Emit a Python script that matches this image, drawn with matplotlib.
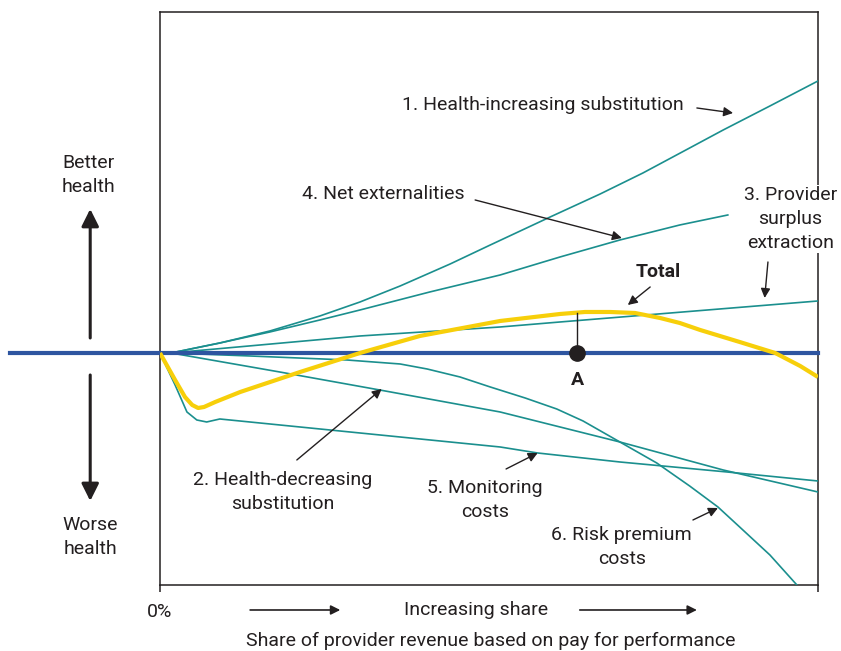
import numpy as np
import matplotlib.pyplot as plt

plt.rcParams['font.family'] = ['Roboto', 'DejaVu Sans']

# x: share of revenue on pay for performance (0-100), y: health effect (arbitrary units)
inc_x = [1.7, 9.1, 16.7, 24.3, 30.4, 36.5, 44.1, 50.2, 59.3, 66.9, 73.4, 80.5, 85.6, 92.7, 100]
inc_y = [0, 1.0, 2.2, 3.7, 5.1, 6.7, 8.9, 10.8, 13.6, 15.9, 18.0, 20.5, 22.3, 24.7, 27.2]

ext_x = [1.7, 9.1, 16.7, 24.3, 30.4, 41.0, 51.7, 60.8, 69.9, 79.0, 86.3]
ext_y = [0, 1.0, 2.1, 3.3, 4.3, 6.1, 7.8, 9.6, 11.3, 12.8, 13.8]

surplus_x = [1.7, 30.4, 51.7, 60.8, 100]
surplus_y = [0, 1.7, 2.6, 3.1, 5.2]

dec_x = [1.7, 18.2, 33.4, 51.7, 69.9, 85.6, 100]
dec_y = [0, -1.9, -3.7, -5.9, -8.9, -11.7, -13.9]

mon_x = [0, 2.3, 4.1, 5.6, 7.1, 9.1, 51.7, 57.4, 69.9, 86.2, 100]
mon_y = [0, -3.2, -5.9, -6.7, -6.9, -6.6, -9.4, -10.0, -10.9, -11.9, -12.8]

risk_x = [1.7, 13.7, 28.4, 36.5, 40.6, 45.6, 50.2, 55.5, 60.3, 64.3, 69.9, 75.5,
          80.5, 84.8, 88.1, 92.7, 96.8]
risk_y = [0, -0.3, -0.7, -1.1, -1.6, -2.4, -3.4, -4.5, -5.6, -6.8, -8.9, -11.0,
          -13.3, -15.4, -17.4, -20.2, -23.2]

total_x = [0, 2.3, 3.8, 4.9, 5.8, 6.7, 8.4, 12.2, 21.3, 30.4, 39.5, 51.7, 60.8, 64.6,
           68.4, 72.2, 76.0, 79.0, 82.1, 88.1, 93.5, 97.3, 100]
total_y = [0, -2.7, -4.4, -5.2, -5.5, -5.4, -4.9, -3.9, -1.9, 0, 1.7, 3.2, 3.9, 4.1,
           4.1, 4.0, 3.5, 3.0, 2.3, 1.1, 0, -1.3, -2.4]

point_a = 63.4

teal = '#1b8f8e'
ink = '#231f20'

fig = plt.figure(figsize=(8.41, 6.51), dpi=100)
ax = fig.add_axes([0.1902, 0.1014, 0.7824, 0.8802])
ax.set_xlim(0, 100)
ax.set_ylim(-23.2, 34.1)

for s in ax.spines.values():
    s.set_color(ink)
    s.set_linewidth(1.1)
ax.set_xticks([0, 100])
ax.set_xticklabels([])
ax.set_yticks([])
ax.tick_params(axis='x', length=5, width=1.1, color=ink)

for xs, ys in [(inc_x, inc_y), (ext_x, ext_y), (surplus_x, surplus_y),
               (dec_x, dec_y), (mon_x, mon_y), (risk_x, risk_y)]:
    ax.plot(xs, ys, color=teal, lw=1.2, zorder=3, solid_joinstyle='round')

ax.plot([-22.8, 100], [0, 0], color='#2e55a0', lw=3, clip_on=False, zorder=4)
ax.plot(total_x, total_y, color='#f7cf0a', lw=3, zorder=5,
        solid_capstyle='butt', solid_joinstyle='round')

a_top = np.interp(point_a, total_x, total_y)
ax.plot([point_a, point_a], [0, a_top], color=ink, lw=1, zorder=6)
ax.plot(point_a, 0, 'o', color=ink, ms=11, zorder=7)
ax.text(point_a, -2.7, 'A', ha='center', va='center', fontsize=14, fontweight='bold', color=ink)

fs = 14
arr = dict(arrowstyle='-|>', color=ink, lw=1, mutation_scale=14, shrinkA=0, shrinkB=0)

def note(text, xy, xytext, tx, ty, **kw):
    ax.text(tx, ty, text, ha='center', va='center', fontsize=fs, color=ink,
            linespacing=1.4, **kw)
    ax.annotate('', xy=xy, xytext=xytext, arrowprops=arr, annotation_clip=False)

note('1. Health-increasing substitution', (87.1, 24.0), (81.6, 24.5), 58.2, 24.8)
note('4. Net externalities', (70.2, 11.5), (47.9, 15.3), 33.9, 15.9)
note('3. Provider\nsurplus\nextraction', (91.9, 5.5), (92.4, 9.1), 95.8, 13.4,
     bbox=dict(facecolor='white', edgecolor='none', pad=1))
note('2. Health-decreasing\nsubstitution', (33.7, -3.6), (20.8, -10.7), 18.7, -13.9)
note('5. Monitoring\ncosts', (57.4, -10.0), (52.6, -11.6), 49.4, -14.7)
note('6. Risk premium\ncosts', (84.8, -15.5), (81.0, -16.7), 70.2, -19.4)

ax.text(75.7, 8.1, 'Total', ha='center', va='center', fontsize=14, fontweight='bold', color=ink)
ax.annotate('', xy=(71.1, 4.8), xytext=(74.5, 6.6), arrowprops=arr, annotation_clip=False)

# left side: better / worse health
ax.text(-10.9, 17.8, 'Better\nhealth', ha='center', va='center', fontsize=fs, color=ink, linespacing=1.4)
ax.text(-10.6, -18.4, 'Worse\nhealth', ha='center', va='center', fontsize=fs, color=ink, linespacing=1.4)
big = dict(arrowstyle='-|>', color=ink, lw=2.2, mutation_scale=26, shrinkA=0, shrinkB=0)
ax.annotate('', xy=(-10.6, 14.4), xytext=(-10.6, 1.5), arrowprops=big, annotation_clip=False)
ax.annotate('', xy=(-10.6, -14.8), xytext=(-10.6, -2.2), arrowprops=big, annotation_clip=False)

# bottom labels
ax.text(0, -25.9, '0%', ha='center', va='center', fontsize=fs, color=ink)
ax.text(48.0, -25.7, 'Increasing share', ha='center', va='center', fontsize=fs, color=ink)
ax.text(50.3, -28.8, 'Share of provider revenue based on pay for performance',
        ha='center', va='center', fontsize=fs, color=ink)
small = dict(arrowstyle='-|>', color=ink, lw=1.2, mutation_scale=14, shrinkA=0, shrinkB=0)
ax.annotate('', xy=(27.4, -25.7), xytext=(13.7, -25.7), arrowprops=small, annotation_clip=False)
ax.annotate('', xy=(81.6, -25.7), xytext=(63.8, -25.7), arrowprops=small, annotation_clip=False)

fig.savefig('out.png', dpi=100)
